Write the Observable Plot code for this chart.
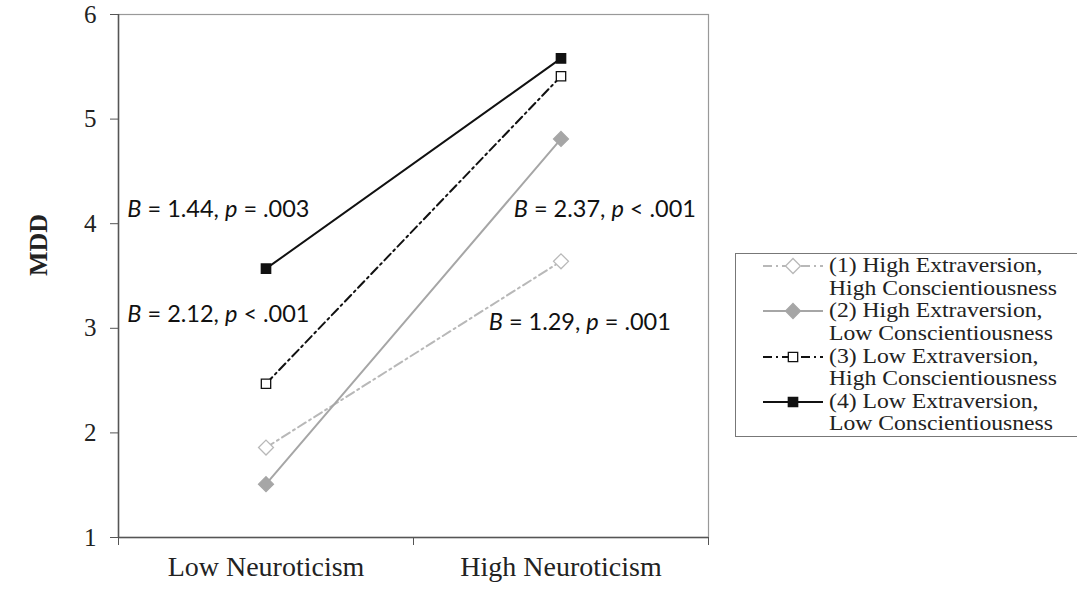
<!DOCTYPE html>
<html>
<head>
<meta charset="utf-8">
<script src="https://cdn.jsdelivr.net/npm/d3@7"></script>
<script src="https://cdn.jsdelivr.net/npm/@observablehq/plot@0.6"></script>
<style>
  html, body { margin: 0; padding: 0; background: #fff; }
  #wrap { position: relative; width: 1077px; height: 592px; overflow: hidden; }
  #legend { position: absolute; left: 735px; top: 253px; width: 345px; height: 184px;
    border: 1px solid #777; box-sizing: border-box; font-family: "Liberation Serif", serif;
    font-size: 21.5px; color: #222; padding-top: 0px; }
  .entry { display: flex; align-items: flex-start; height: 45.3px; }
  .entry svg { flex: none; margin-left: 26px; margin-right: 5px; margin-top: 1px; }
  .entry .lbl { white-space: nowrap; transform: scaleX(1.1); transform-origin: left center; }
  .entry .ln { line-height: 22.6px; height: 22.6px; }
</style>
</head>
<body>
<div id="wrap"></div>
<script>
// ---- data ----
const categories = ["Low Neuroticism", "High Neuroticism"];
const seriesLabels = [
  ["(1) High Extraversion,", "High Conscientiousness"],
  ["(2) High Extraversion,", "Low Conscientiousness"],
  ["(3) Low Extraversion,", "High Conscientiousness"],
  ["(4) Low Extraversion,", "Low Conscientiousness"]
];
const series1 = [1.86, 3.64];
const series2 = [1.51, 4.81];
const series3 = [2.47, 5.41];
const series4 = [3.57, 5.58];
const yTicks = [1, 2, 3, 4, 5, 6];
const annotationText = ["B = 1.44, p = .003", "B = 2.12, p < .001", "B = 2.37, p < .001", "B = 1.29, p = .001"];
const annotationX = [0.03, 0.03, 1.34, 1.255];
const annotationY = [4.14, 3.13, 4.14, 3.06];

// ---- styles ----
const serif = "Liberation Serif, Times New Roman, serif";
const styles = [
  {stroke: "#b8b8b8", dash: "9,4,2,4", symbol: "diamond2", fill: "white", r: 4.2},
  {stroke: "#a6a6a6", dash: null, symbol: "diamond2", fill: "#a6a6a6", r: 4.2},
  {stroke: "#111", dash: "9,4,2,4", symbol: "square", fill: "white", r: 3.3},
  {stroke: "#111", dash: null, symbol: "square", fill: "#111", r: 3.3}
];
const allSeries = [series1, series2, series3, series4];
const rows = allSeries.map((vals, s) => vals.map((v, i) => ({s, x: i + 0.5, y: v})));

const lineMarks = [];
rows.forEach((data, s) => {
  const st = styles[s];
  lineMarks.push(Plot.line(data, {x: "x", y: "y", stroke: st.stroke, strokeWidth: 2, strokeDasharray: st.dash}));
});
rows.forEach((data, s) => {
  const st = styles[s];
  lineMarks.push(Plot.dot(data, {x: "x", y: "y", symbol: st.symbol, r: st.r * 1.6, stroke: st.stroke, strokeWidth: 1.3, fill: st.fill}));
});

const ann = annotationText.map((t, i) => ({t, x: annotationX[i], y: annotationY[i]}));

const chart = Plot.plot({
  width: 1077, height: 592,
  marginLeft: 118, marginRight: 369, marginTop: 14, marginBottom: 55,
  x: {type: "linear", domain: [0, 2]},
  y: {domain: [1, 6]},
  style: {background: "white", fontFamily: serif, color: "#222"},
  marks: [
    Plot.frame({stroke: "#999", strokeWidth: 1.2}),
    Plot.ruleX([0], {stroke: "#555", strokeWidth: 1.5}),
    Plot.ruleY([1], {stroke: "#555", strokeWidth: 1.5}),
    Plot.axisY({ticks: yTicks, tickSize: 8, tickPadding: 14, fontSize: 25, fontFamily: serif,
      tickFormat: d => String(d), label: null, stroke: "#555"}),
    Plot.axisX({ticks: [0, 1, 2], tickSize: 8, tickFormat: () => "", label: null, stroke: "#555"}),
    Plot.axisX({ticks: [0.5, 1.5], tickSize: 0, tickPadding: 19, fontSize: 28, fontFamily: serif, label: null,
      tickFormat: d => categories[Math.floor(d)]}),
    ...lineMarks,
    Plot.text(ann, {x: "x", y: "y", text: "t", textAnchor: "start", fontSize: 23.5,
      fontFamily: "Lato, sans-serif", fill: "#111", className: "ann"}),
    Plot.text(["MDD"], {frameAnchor: "left", dx: -80, rotate: -90, fontWeight: "bold", fontSize: 26,
      fontFamily: serif, fill: "#222"})
  ]
});

// italicize B and p in annotations
d3.select(chart).selectAll(".ann text").each(function() {
  const el = d3.select(this);
  const txt = el.text();
  el.text(null);
  txt.split(/(\bB\b|\bp\b)/).forEach(p => {
    if (!p) return;
    const ts = el.append("tspan").text(p);
    if (p === "B" || p === "p") ts.attr("font-style", "italic");
  });
});

const wrap = document.getElementById("wrap");
wrap.appendChild(chart);

// legend
const legend = document.createElement("div");
legend.id = "legend";
seriesLabels.forEach((lbl, s) => {
  const st = styles[s];
  const entry = document.createElement("div");
  entry.className = "entry";
  const svg = d3.create("svg").attr("width", 62).attr("height", 22);
  svg.append("line").attr("x1", 1).attr("x2", 61).attr("y1", 11).attr("y2", 11)
    .attr("stroke", st.stroke).attr("stroke-width", 2).attr("stroke-dasharray", st.dash);
  const sym = st.symbol === "square" ? d3.symbolSquare : d3.symbolDiamond2;
  const rr = st.r * 1.6;
  svg.append("path").attr("d", d3.symbol(sym, Math.PI * rr * rr)())
    .attr("transform", "translate(31,11)")
    .attr("stroke", st.stroke).attr("stroke-width", 1.3).attr("fill", st.fill);
  entry.appendChild(svg.node());
  const l = document.createElement("div");
  l.className = "lbl";
  lbl.forEach(t => {
    const ln = document.createElement("div");
    ln.className = "ln";
    ln.textContent = t;
    l.appendChild(ln);
  });
  entry.appendChild(l);
  legend.appendChild(entry);
});
wrap.appendChild(legend);
</script>
</body>
</html>
